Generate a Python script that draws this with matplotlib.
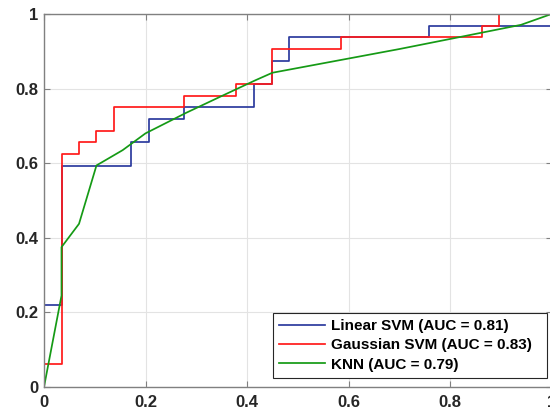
import numpy as np
import matplotlib
matplotlib.use("Agg")
import matplotlib.pyplot as plt

# =========================
# ROC data
# =========================
lin_fpr = [0, 0, 0.0345, 0.0345, 0.1724, 0.1724, 0.2069, 0.2069, 0.2759, 0.2759,
           0.4138, 0.4138, 0.4483, 0.4483, 0.4828, 0.4828, 0.7586, 0.7586, 1, 1]
lin_tpr = [0, 0.21875, 0.21875, 0.59375, 0.59375, 0.65625, 0.65625, 0.71875, 0.71875, 0.75,
           0.75, 0.8125, 0.8125, 0.875, 0.875, 0.9375, 0.9375, 0.96875, 0.96875, 1]

gau_fpr = [0, 0, 0.0345, 0.0345, 0.069, 0.069, 0.1034, 0.1034, 0.1379, 0.1379,
           0.2759, 0.2759, 0.3793, 0.3793, 0.4483, 0.4483, 0.5862, 0.5862, 0.8621, 0.8621,
           0.8966, 0.8966, 1]
gau_tpr = [0, 0.0625, 0.0625, 0.625, 0.625, 0.65625, 0.65625, 0.6875, 0.6875, 0.75,
           0.75, 0.78125, 0.78125, 0.8125, 0.8125, 0.90625, 0.90625, 0.9375, 0.9375, 0.96875,
           0.96875, 1, 1]

knn_fpr = [0, 0.0345, 0.0345, 0.069, 0.1034, 0.155, 0.2, 0.28, 0.35, 0.416,
           0.45, 0.70, 0.80, 0.94, 1]
knn_tpr = [0, 0.245, 0.375, 0.4375, 0.594, 0.635, 0.68, 0.735, 0.78, 0.822,
           0.8425, 0.906, 0.933, 0.971, 1]

labels = ["Linear SVM (AUC = 0.81)", "Gaussian SVM (AUC = 0.83)", "KNN (AUC = 0.79)"]

# =========================
# Plot
# =========================
plt.rcParams['font.family'] = ['Liberation Sans', 'DejaVu Sans']

fig = plt.figure(figsize=(5.5, 4.15), dpi=100)
ax = fig.add_axes([44 / 550, 28 / 415, 507.5 / 550, 373 / 415])

ax.plot(lin_fpr, lin_tpr, color='#2B3A9E', lw=1.25, label=labels[0])
ax.plot(gau_fpr, gau_tpr, color='#FF1A1A', lw=1.25, label=labels[1])
ax.plot(knn_fpr, knn_tpr, color='#159A15', lw=1.25, label=labels[2])

ax.set_xlim(0, 1)
ax.set_ylim(0, 1)
ax.set_xticks([0, 0.2, 0.4, 0.6, 0.8, 1])
ax.set_yticks([0, 0.2, 0.4, 0.6, 0.8, 1])
ax.set_xticklabels(["0", "0.2", "0.4", "0.6", "0.8", "1"])
ax.set_yticklabels(["0", "0.2", "0.4", "0.6", "0.8", "1"])

ax.grid(True, color='#E3E3E3', lw=0.8)
ax.set_axisbelow(True)
for s in ax.spines.values():
    s.set_color('#808080')
    s.set_linewidth(1.0)

ax.tick_params(direction='in', length=4, width=0.8, color='#808080',
               top=True, right=True, labelsize=12, labelcolor='#262626')
ax.tick_params(axis='x', pad=6)
ax.tick_params(axis='y', pad=4)
for t in ax.get_xticklabels() + ax.get_yticklabels():
    t.set_fontweight('bold')

leg = ax.legend(loc='lower left', bbox_to_anchor=(0.451, 0.025, 0.54, 0.17),
                mode='expand', borderaxespad=0,
                fancybox=False, framealpha=1, edgecolor='#262626', handlelength=3.0,
                prop={'weight': 'bold', 'size': 11}, borderpad=0.4, labelspacing=0.35,
                handletextpad=0.4)
leg.get_frame().set_linewidth(0.8)

fig.savefig("out.png", dpi=100)
